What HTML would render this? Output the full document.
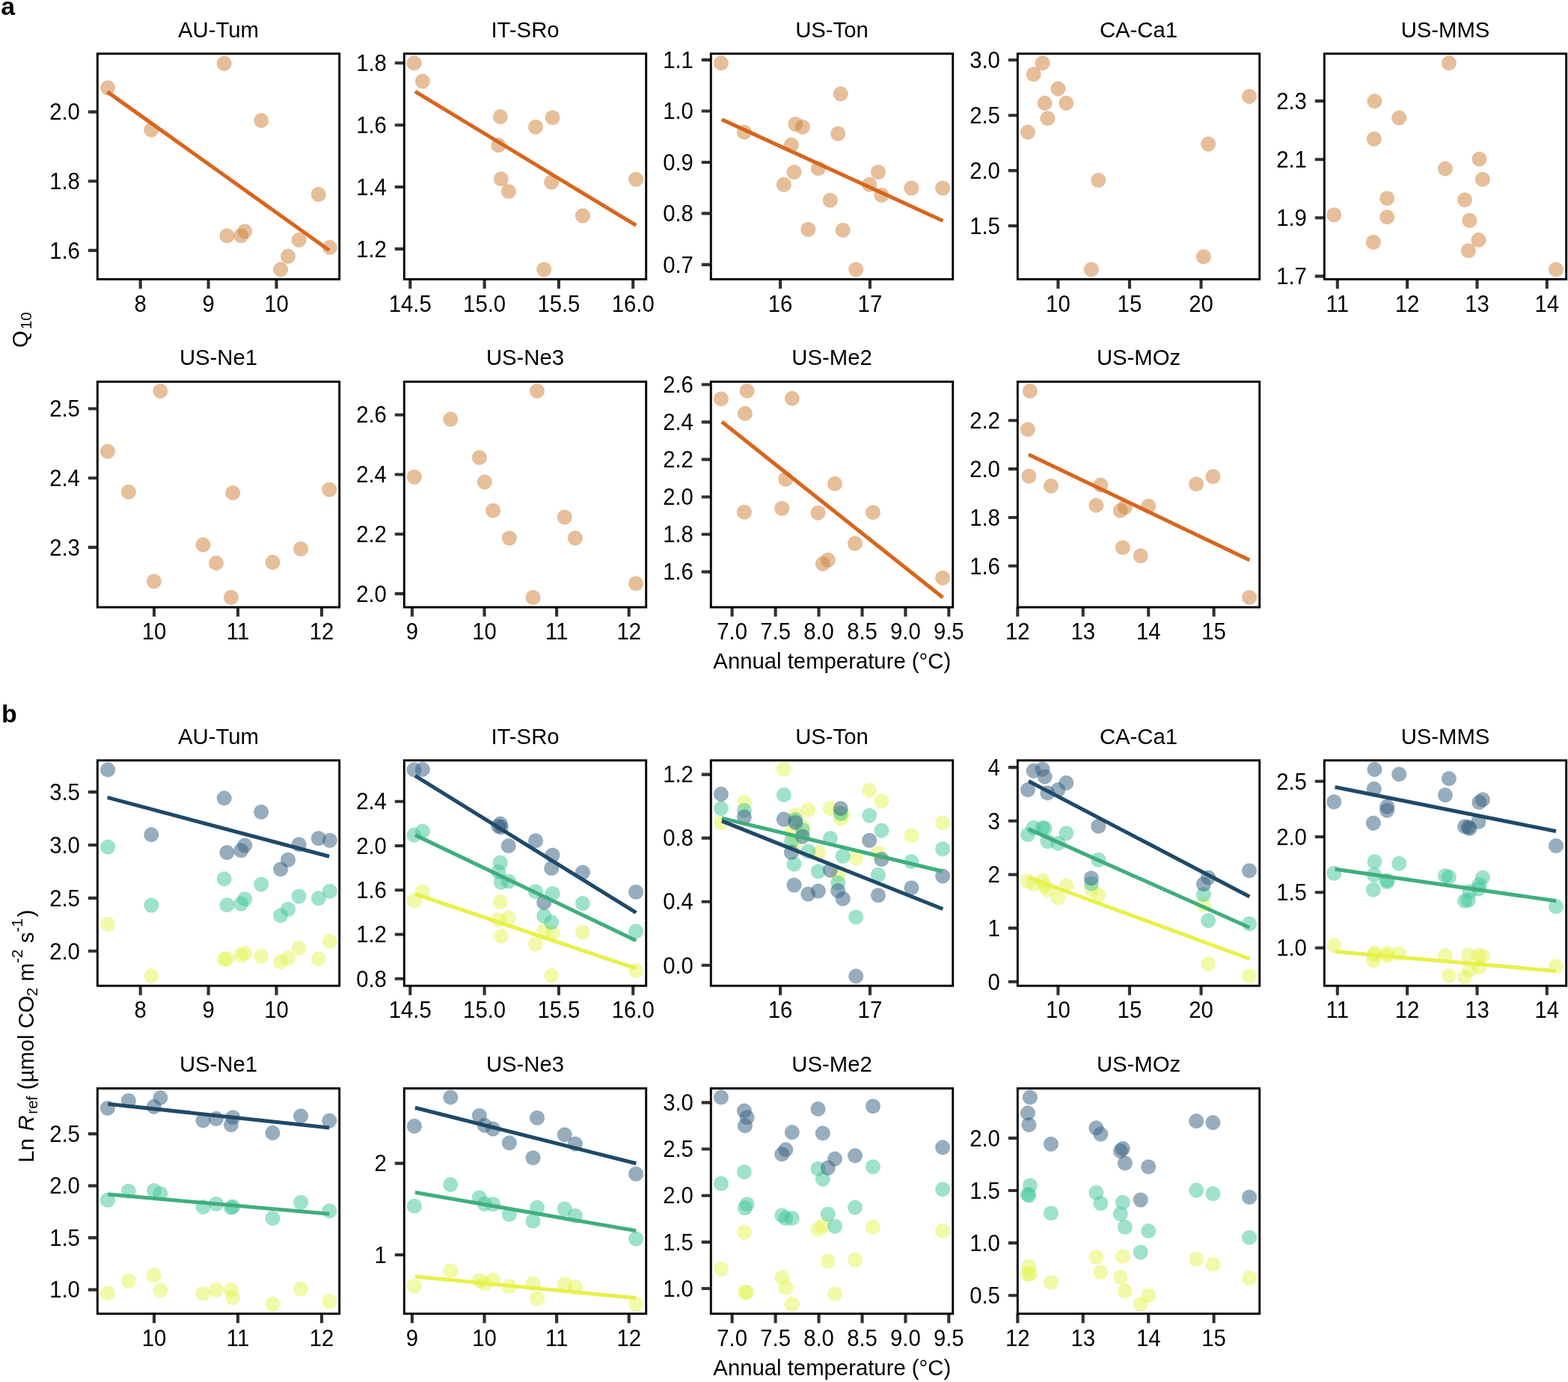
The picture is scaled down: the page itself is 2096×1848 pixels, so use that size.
<!DOCTYPE html>
<html lang="en"><head><meta charset="utf-8"><title>Q10 and Rref versus annual temperature</title>
<style>html,body{margin:0;padding:0;background:#fff}body{width:2096px;height:1848px;overflow:hidden}svg{display:block}text{font-family:"Liberation Sans",sans-serif;font-size:29.3px;fill:#000}.fr{fill:none;stroke:#000;stroke-width:2.9}.tk{stroke:#303030;stroke-width:4.1;fill:none}.t{text-anchor:middle}.y{text-anchor:end}.lb{font-weight:bold;font-size:33.8px}.ln{fill:none;stroke-width:5.05;stroke-linecap:butt}.s{font-size:20.5px}</style></head><body>
<svg width="2096" height="1848" viewBox="0 0 2096 1848" role="img" aria-label="Scatter plots of Q10 and Ln Rref against annual temperature for nine sites">
<rect width="2096" height="1848" fill="#fff"/>
<g id="a1">
<g fill="#cf843e" fill-opacity="0.52" stroke="#cf843e" stroke-opacity="0.312" stroke-width="0.6"><circle cx="144.1" cy="117.4" r="9.8"/><circle cx="299.7" cy="84.9" r="9.8"/><circle cx="202.3" cy="173.6" r="9.8"/><circle cx="349.2" cy="161.1" r="9.8"/><circle cx="425.8" cy="260" r="9.8"/><circle cx="303.4" cy="315.2" r="9.8"/><circle cx="322.2" cy="315.2" r="9.8"/><circle cx="327.2" cy="309.2" r="9.8"/><circle cx="399.6" cy="320.9" r="9.8"/><circle cx="440.8" cy="330.9" r="9.8"/><circle cx="385.1" cy="342.7" r="9.8"/><circle cx="375.1" cy="360.4" r="9.8"/></g>
<path class="ln" stroke="#d8651d" d="M143.6 122.9L440.1 334.7"/>
<path class="tk" d="M187.7 373.4v12.5M278.6 373.4v12.5M369.5 373.4v12.5M130.3 149.6h-12.5M130.3 242.2h-12.5M130.3 334.9h-12.5"/>
<rect class="fr" x="130.3" y="71.8" width="323.4" height="301.6"/>
<text class="t" transform="translate(292 49.7) scale(1 1.02)">AU-Tum</text>
<text class="t" transform="translate(187.7 416.6) scale(1 1.04)">8</text>
<text class="t" transform="translate(278.6 416.6) scale(1 1.04)">9</text>
<text class="t" transform="translate(369.5 416.6) scale(1 1.04)">10</text>
<text class="y" transform="translate(106.9 160.3) scale(1 1.04)">2.0</text>
<text class="y" transform="translate(106.9 252.9) scale(1 1.04)">1.8</text>
<text class="y" transform="translate(106.9 345.6) scale(1 1.04)">1.6</text>
</g>
<g id="a2">
<g fill="#cf843e" fill-opacity="0.52" stroke="#cf843e" stroke-opacity="0.312" stroke-width="0.6"><circle cx="553.6" cy="84.4" r="9.8"/><circle cx="564.9" cy="108.6" r="9.8"/><circle cx="668.8" cy="156.1" r="9.8"/><circle cx="738.5" cy="157.3" r="9.8"/><circle cx="716" cy="169.8" r="9.8"/><circle cx="666.3" cy="194.3" r="9.8"/><circle cx="669.8" cy="239.3" r="9.8"/><circle cx="679.8" cy="256" r="9.8"/><circle cx="737.2" cy="243.5" r="9.8"/><circle cx="850.1" cy="239.8" r="9.8"/><circle cx="778.9" cy="288.5" r="9.8"/><circle cx="727.2" cy="360.4" r="9.8"/></g>
<path class="ln" stroke="#d8651d" d="M554.9 122.4L850.3 301.4"/>
<path class="tk" d="M548.3 373.4v12.5M647.6 373.4v12.5M746.9 373.4v12.5M846.2 373.4v12.5M540.3 84.3h-12.5M540.3 167.2h-12.5M540.3 250h-12.5M540.3 332.9h-12.5"/>
<rect class="fr" x="540.3" y="71.8" width="323.4" height="301.6"/>
<text class="t" transform="translate(702 49.7) scale(1 1.02)">IT-SRo</text>
<text class="t" transform="translate(548.3 416.6) scale(1 1.04)">14.5</text>
<text class="t" transform="translate(647.6 416.6) scale(1 1.04)">15.0</text>
<text class="t" transform="translate(746.9 416.6) scale(1 1.04)">15.5</text>
<text class="t" transform="translate(846.2 416.6) scale(1 1.04)">16.0</text>
<text class="y" transform="translate(516.9 95) scale(1 1.04)">1.8</text>
<text class="y" transform="translate(516.9 177.9) scale(1 1.04)">1.6</text>
<text class="y" transform="translate(516.9 260.7) scale(1 1.04)">1.4</text>
<text class="y" transform="translate(516.9 343.6) scale(1 1.04)">1.2</text>
</g>
<g id="a3">
<g fill="#cf843e" fill-opacity="0.52" stroke="#cf843e" stroke-opacity="0.312" stroke-width="0.6"><circle cx="963.9" cy="84.4" r="9.8"/><circle cx="1123.7" cy="125.6" r="9.8"/><circle cx="994.9" cy="176.8" r="9.8"/><circle cx="1063.3" cy="166.1" r="9.8"/><circle cx="1072.8" cy="169.8" r="9.8"/><circle cx="1120.2" cy="178.8" r="9.8"/><circle cx="1057.8" cy="193.8" r="9.8"/><circle cx="1093.8" cy="225.3" r="9.8"/><circle cx="1061.5" cy="230.3" r="9.8"/><circle cx="1047.8" cy="246.8" r="9.8"/><circle cx="1173.9" cy="230.3" r="9.8"/><circle cx="1162.2" cy="246.8" r="9.8"/><circle cx="1178.4" cy="261" r="9.8"/><circle cx="1218.4" cy="251.5" r="9.8"/><circle cx="1260.1" cy="251.5" r="9.8"/><circle cx="1109.8" cy="267.7" r="9.8"/><circle cx="1080.3" cy="306.7" r="9.8"/><circle cx="1126.7" cy="307.7" r="9.8"/><circle cx="1144.2" cy="360.4" r="9.8"/></g>
<path class="ln" stroke="#d8651d" d="M964.9 159.8L1260.3 295.2"/>
<path class="tk" d="M1043.1 373.4v12.5M1162.9 373.4v12.5M950.3 80.1h-12.5M950.3 148.5h-12.5M950.3 217h-12.5M950.3 285.4h-12.5M950.3 353.9h-12.5"/>
<rect class="fr" x="950.3" y="71.8" width="323.4" height="301.6"/>
<text class="t" transform="translate(1112 49.7) scale(1 1.02)">US-Ton</text>
<text class="t" transform="translate(1043.1 416.6) scale(1 1.04)">16</text>
<text class="t" transform="translate(1162.9 416.6) scale(1 1.04)">17</text>
<text class="y" transform="translate(926.9 90.8) scale(1 1.04)">1.1</text>
<text class="y" transform="translate(926.9 159.2) scale(1 1.04)">1.0</text>
<text class="y" transform="translate(926.9 227.7) scale(1 1.04)">0.9</text>
<text class="y" transform="translate(926.9 296.1) scale(1 1.04)">0.8</text>
<text class="y" transform="translate(926.9 364.6) scale(1 1.04)">0.7</text>
</g>
<g id="a4">
<g fill="#cf843e" fill-opacity="0.52" stroke="#cf843e" stroke-opacity="0.312" stroke-width="0.6"><circle cx="1393.6" cy="84.4" r="9.8"/><circle cx="1381.6" cy="99.4" r="9.8"/><circle cx="1414.4" cy="118.6" r="9.8"/><circle cx="1396.6" cy="137.9" r="9.8"/><circle cx="1425.3" cy="137.9" r="9.8"/><circle cx="1400.4" cy="158.3" r="9.8"/><circle cx="1373.9" cy="176.6" r="9.8"/><circle cx="1669.9" cy="128.9" r="9.8"/><circle cx="1615.2" cy="192.6" r="9.8"/><circle cx="1468.3" cy="241" r="9.8"/><circle cx="1608.9" cy="343.4" r="9.8"/><circle cx="1458.8" cy="360.4" r="9.8"/></g>
<path class="tk" d="M1414.4 373.4v12.5M1509.9 373.4v12.5M1605.5 373.4v12.5M1360.3 80.3h-12.5M1360.3 154.2h-12.5M1360.3 228.1h-12.5M1360.3 302h-12.5"/>
<rect class="fr" x="1360.3" y="71.8" width="323.4" height="301.6"/>
<text class="t" transform="translate(1522 49.7) scale(1 1.02)">CA-Ca1</text>
<text class="t" transform="translate(1414.4 416.6) scale(1 1.04)">10</text>
<text class="t" transform="translate(1509.9 416.6) scale(1 1.04)">15</text>
<text class="t" transform="translate(1605.5 416.6) scale(1 1.04)">20</text>
<text class="y" transform="translate(1336.9 91) scale(1 1.04)">3.0</text>
<text class="y" transform="translate(1336.9 164.9) scale(1 1.04)">2.5</text>
<text class="y" transform="translate(1336.9 238.8) scale(1 1.04)">2.0</text>
<text class="y" transform="translate(1336.9 312.7) scale(1 1.04)">1.5</text>
</g>
<g id="a5">
<g fill="#cf843e" fill-opacity="0.52" stroke="#cf843e" stroke-opacity="0.312" stroke-width="0.6"><circle cx="1936.9" cy="84.4" r="9.8"/><circle cx="1837.5" cy="135.4" r="9.8"/><circle cx="1870.2" cy="157.6" r="9.8"/><circle cx="1836.8" cy="185.8" r="9.8"/><circle cx="1977.4" cy="212.8" r="9.8"/><circle cx="1931.9" cy="225.5" r="9.8"/><circle cx="1981.9" cy="239.8" r="9.8"/><circle cx="1854.2" cy="265.2" r="9.8"/><circle cx="1958.1" cy="267.2" r="9.8"/><circle cx="1783.3" cy="287.2" r="9.8"/><circle cx="1854.2" cy="290.2" r="9.8"/><circle cx="1964.4" cy="294.7" r="9.8"/><circle cx="1835.8" cy="323.9" r="9.8"/><circle cx="1976.4" cy="320.9" r="9.8"/><circle cx="1962.9" cy="335.2" r="9.8"/><circle cx="2080" cy="360.4" r="9.8"/></g>
<path class="tk" d="M1787.8 373.4v12.5M1881.1 373.4v12.5M1974.5 373.4v12.5M2067.8 373.4v12.5M1770.3 135.1h-12.5M1770.3 213.2h-12.5M1770.3 291.3h-12.5M1770.3 369.4h-12.5"/>
<rect class="fr" x="1770.3" y="71.8" width="323.4" height="301.6"/>
<text class="t" transform="translate(1932 49.7) scale(1 1.02)">US-MMS</text>
<text class="t" transform="translate(1787.8 416.6) scale(1 1.04)">11</text>
<text class="t" transform="translate(1881.1 416.6) scale(1 1.04)">12</text>
<text class="t" transform="translate(1974.5 416.6) scale(1 1.04)">13</text>
<text class="t" transform="translate(2067.8 416.6) scale(1 1.04)">14</text>
<text class="y" transform="translate(1746.9 145.8) scale(1 1.04)">2.3</text>
<text class="y" transform="translate(1746.9 223.9) scale(1 1.04)">2.1</text>
<text class="y" transform="translate(1746.9 302) scale(1 1.04)">1.9</text>
<text class="y" transform="translate(1746.9 380.1) scale(1 1.04)">1.7</text>
</g>
<g id="a6">
<g fill="#cf843e" fill-opacity="0.52" stroke="#cf843e" stroke-opacity="0.312" stroke-width="0.6"><circle cx="214.3" cy="522.9" r="9.8"/><circle cx="143.9" cy="603.6" r="9.8"/><circle cx="171.8" cy="657.8" r="9.8"/><circle cx="311.2" cy="659" r="9.8"/><circle cx="440.3" cy="654.8" r="9.8"/><circle cx="271.5" cy="728.5" r="9.8"/><circle cx="402.1" cy="734" r="9.8"/><circle cx="289" cy="752.9" r="9.8"/><circle cx="364.4" cy="751.9" r="9.8"/><circle cx="205.8" cy="777.4" r="9.8"/><circle cx="308.9" cy="798.7" r="9.8"/></g>
<path class="tk" d="M206 812v12.5M318 812v12.5M430 812v12.5M130.3 546.5h-12.5M130.3 639.2h-12.5M130.3 731.9h-12.5"/>
<rect class="fr" x="130.3" y="510.4" width="323.4" height="301.6"/>
<text class="t" transform="translate(292 488.3) scale(1 1.02)">US-Ne1</text>
<text class="t" transform="translate(206 855.2) scale(1 1.04)">10</text>
<text class="t" transform="translate(318 855.2) scale(1 1.04)">11</text>
<text class="t" transform="translate(430 855.2) scale(1 1.04)">12</text>
<text class="y" transform="translate(106.9 557.2) scale(1 1.04)">2.5</text>
<text class="y" transform="translate(106.9 649.9) scale(1 1.04)">2.4</text>
<text class="y" transform="translate(106.9 742.6) scale(1 1.04)">2.3</text>
</g>
<g id="a7">
<g fill="#cf843e" fill-opacity="0.52" stroke="#cf843e" stroke-opacity="0.312" stroke-width="0.6"><circle cx="718" cy="522.9" r="9.8"/><circle cx="602.3" cy="560.6" r="9.8"/><circle cx="640.8" cy="611.8" r="9.8"/><circle cx="553.9" cy="637.8" r="9.8"/><circle cx="647.8" cy="644.6" r="9.8"/><circle cx="659" cy="682.8" r="9.8"/><circle cx="754.7" cy="691.5" r="9.8"/><circle cx="680.8" cy="719.5" r="9.8"/><circle cx="768.9" cy="719.5" r="9.8"/><circle cx="850.1" cy="780.2" r="9.8"/><circle cx="712.5" cy="798.7" r="9.8"/></g>
<path class="tk" d="M550.9 812v12.5M647.5 812v12.5M744.1 812v12.5M840.7 812v12.5M540.3 554.7h-12.5M540.3 634.5h-12.5M540.3 714.2h-12.5M540.3 793.9h-12.5"/>
<rect class="fr" x="540.3" y="510.4" width="323.4" height="301.6"/>
<text class="t" transform="translate(702 488.3) scale(1 1.02)">US-Ne3</text>
<text class="t" transform="translate(550.9 855.2) scale(1 1.04)">9</text>
<text class="t" transform="translate(647.5 855.2) scale(1 1.04)">10</text>
<text class="t" transform="translate(744.1 855.2) scale(1 1.04)">11</text>
<text class="t" transform="translate(840.7 855.2) scale(1 1.04)">12</text>
<text class="y" transform="translate(516.9 565.4) scale(1 1.04)">2.6</text>
<text class="y" transform="translate(516.9 645.2) scale(1 1.04)">2.4</text>
<text class="y" transform="translate(516.9 724.9) scale(1 1.04)">2.2</text>
<text class="y" transform="translate(516.9 804.6) scale(1 1.04)">2.0</text>
</g>
<g id="a8">
<g fill="#cf843e" fill-opacity="0.52" stroke="#cf843e" stroke-opacity="0.312" stroke-width="0.6"><circle cx="963.9" cy="533.4" r="9.8"/><circle cx="998.6" cy="522.7" r="9.8"/><circle cx="1058.8" cy="532.7" r="9.8"/><circle cx="995.9" cy="552.9" r="9.8"/><circle cx="1050.3" cy="640.8" r="9.8"/><circle cx="1116" cy="646.8" r="9.8"/><circle cx="994.9" cy="684.8" r="9.8"/><circle cx="1045.3" cy="679.8" r="9.8"/><circle cx="1093.5" cy="685.8" r="9.8"/><circle cx="1166.9" cy="685.3" r="9.8"/><circle cx="1143" cy="726.7" r="9.8"/><circle cx="1106.8" cy="748.7" r="9.8"/><circle cx="1099.8" cy="753.9" r="9.8"/><circle cx="1260.1" cy="772.7" r="9.8"/></g>
<path class="ln" stroke="#d8651d" d="M964.9 564.1L1260.3 798.9"/>
<path class="tk" d="M978.6 812v12.5M1036.6 812v12.5M1094.5 812v12.5M1152.5 812v12.5M1210.4 812v12.5M1268.3 812v12.5M950.3 514.3h-12.5M950.3 564.4h-12.5M950.3 614.4h-12.5M950.3 664.5h-12.5M950.3 714.5h-12.5M950.3 764.6h-12.5"/>
<rect class="fr" x="950.3" y="510.4" width="323.4" height="301.6"/>
<text class="t" transform="translate(1112 488.3) scale(1 1.02)">US-Me2</text>
<text class="t" transform="translate(978.6 855.2) scale(1 1.04)">7.0</text>
<text class="t" transform="translate(1036.6 855.2) scale(1 1.04)">7.5</text>
<text class="t" transform="translate(1094.5 855.2) scale(1 1.04)">8.0</text>
<text class="t" transform="translate(1152.5 855.2) scale(1 1.04)">8.5</text>
<text class="t" transform="translate(1210.4 855.2) scale(1 1.04)">9.0</text>
<text class="t" transform="translate(1268.3 855.2) scale(1 1.04)">9.5</text>
<text class="y" transform="translate(926.9 525) scale(1 1.04)">2.6</text>
<text class="y" transform="translate(926.9 575.1) scale(1 1.04)">2.4</text>
<text class="y" transform="translate(926.9 625.1) scale(1 1.04)">2.2</text>
<text class="y" transform="translate(926.9 675.2) scale(1 1.04)">2.0</text>
<text class="y" transform="translate(926.9 725.2) scale(1 1.04)">1.8</text>
<text class="y" transform="translate(926.9 775.3) scale(1 1.04)">1.6</text>
</g>
<g id="a9">
<g fill="#cf843e" fill-opacity="0.52" stroke="#cf843e" stroke-opacity="0.312" stroke-width="0.6"><circle cx="1376.9" cy="522.9" r="9.8"/><circle cx="1373.9" cy="574.4" r="9.8"/><circle cx="1375.4" cy="636.8" r="9.8"/><circle cx="1404.9" cy="649.8" r="9.8"/><circle cx="1471.3" cy="648.6" r="9.8"/><circle cx="1465.3" cy="675.8" r="9.8"/><circle cx="1497.8" cy="682.8" r="9.8"/><circle cx="1503.8" cy="678.3" r="9.8"/><circle cx="1535.2" cy="676.8" r="9.8"/><circle cx="1599.2" cy="647.3" r="9.8"/><circle cx="1621.4" cy="637.3" r="9.8"/><circle cx="1500.8" cy="732.2" r="9.8"/><circle cx="1524.7" cy="743.2" r="9.8"/><circle cx="1670.1" cy="798.7" r="9.8"/></g>
<path class="ln" stroke="#d8651d" d="M1374.9 607.8L1670.3 749"/>
<path class="tk" d="M1360.3 812v12.5M1447.7 812v12.5M1535.2 812v12.5M1622.6 812v12.5M1360.3 562.2h-12.5M1360.3 627.1h-12.5M1360.3 692h-12.5M1360.3 756.8h-12.5"/>
<rect class="fr" x="1360.3" y="510.4" width="323.4" height="301.6"/>
<text class="t" transform="translate(1522 488.3) scale(1 1.02)">US-MOz</text>
<text class="t" transform="translate(1360.3 855.2) scale(1 1.04)">12</text>
<text class="t" transform="translate(1447.7 855.2) scale(1 1.04)">13</text>
<text class="t" transform="translate(1535.2 855.2) scale(1 1.04)">14</text>
<text class="t" transform="translate(1622.6 855.2) scale(1 1.04)">15</text>
<text class="y" transform="translate(1336.9 572.9) scale(1 1.04)">2.2</text>
<text class="y" transform="translate(1336.9 637.8) scale(1 1.04)">2.0</text>
<text class="y" transform="translate(1336.9 702.7) scale(1 1.04)">1.8</text>
<text class="y" transform="translate(1336.9 767.5) scale(1 1.04)">1.6</text>
</g>
<g id="b1">
<g fill="#e4f24b" fill-opacity="0.48" stroke="#e4f24b" stroke-opacity="0.288" stroke-width="0.6"><circle cx="144.1" cy="1235.9" r="9.8"/><circle cx="202.3" cy="1305.1" r="9.8"/><circle cx="299.7" cy="1282.9" r="9.8"/><circle cx="303.4" cy="1282.1" r="9.8"/><circle cx="322.2" cy="1277.6" r="9.8"/><circle cx="327.2" cy="1274.6" r="9.8"/><circle cx="349.2" cy="1278.9" r="9.8"/><circle cx="375.1" cy="1285.9" r="9.8"/><circle cx="385.1" cy="1281.4" r="9.8"/><circle cx="399.6" cy="1267.9" r="9.8"/><circle cx="425.8" cy="1282.1" r="9.8"/><circle cx="440.8" cy="1258.9" r="9.8"/></g>
<g fill="#3fc699" fill-opacity="0.5" stroke="#3fc699" stroke-opacity="0.3" stroke-width="0.6"><circle cx="144.1" cy="1132.5" r="9.8"/><circle cx="202.3" cy="1210.5" r="9.8"/><circle cx="299.7" cy="1175.2" r="9.8"/><circle cx="303.4" cy="1210.2" r="9.8"/><circle cx="322.2" cy="1208.5" r="9.8"/><circle cx="327.2" cy="1202.2" r="9.8"/><circle cx="349.2" cy="1182.5" r="9.8"/><circle cx="375.1" cy="1224.2" r="9.8"/><circle cx="385.1" cy="1215.7" r="9.8"/><circle cx="399.6" cy="1198.5" r="9.8"/><circle cx="425.8" cy="1201.2" r="9.8"/><circle cx="440.8" cy="1191.7" r="9.8"/></g>
<g fill="#3b6583" fill-opacity="0.53" stroke="#3b6583" stroke-opacity="0.318" stroke-width="0.6"><circle cx="144.1" cy="1029.4" r="9.8"/><circle cx="202.3" cy="1116.1" r="9.8"/><circle cx="299.7" cy="1067.4" r="9.8"/><circle cx="303.4" cy="1140" r="9.8"/><circle cx="322.2" cy="1137.3" r="9.8"/><circle cx="327.2" cy="1130.5" r="9.8"/><circle cx="349.2" cy="1085.8" r="9.8"/><circle cx="375.1" cy="1162.3" r="9.8"/><circle cx="385.1" cy="1149.8" r="9.8"/><circle cx="399.6" cy="1129.3" r="9.8"/><circle cx="425.8" cy="1121" r="9.8"/><circle cx="440.8" cy="1123.8" r="9.8"/></g>
<path class="ln" stroke="#1f4969" d="M143.6 1066.4L440.1 1145.3"/>
<path class="tk" d="M187.7 1318.2v12.5M278.6 1318.2v12.5M369.5 1318.2v12.5M130.3 1059.1h-12.5M130.3 1130h-12.5M130.3 1200.9h-12.5M130.3 1271.8h-12.5"/>
<rect class="fr" x="130.3" y="1016.8" width="323.4" height="301.4"/>
<text class="t" transform="translate(292 994.7) scale(1 1.02)">AU-Tum</text>
<text class="t" transform="translate(187.7 1361.4) scale(1 1.04)">8</text>
<text class="t" transform="translate(278.6 1361.4) scale(1 1.04)">9</text>
<text class="t" transform="translate(369.5 1361.4) scale(1 1.04)">10</text>
<text class="y" transform="translate(106.9 1069.8) scale(1 1.04)">3.5</text>
<text class="y" transform="translate(106.9 1140.7) scale(1 1.04)">3.0</text>
<text class="y" transform="translate(106.9 1211.6) scale(1 1.04)">2.5</text>
<text class="y" transform="translate(106.9 1282.5) scale(1 1.04)">2.0</text>
</g>
<g id="b2">
<g fill="#e4f24b" fill-opacity="0.48" stroke="#e4f24b" stroke-opacity="0.288" stroke-width="0.6"><circle cx="553.6" cy="1204.2" r="9.8"/><circle cx="564.9" cy="1192.2" r="9.8"/><circle cx="668.8" cy="1206" r="9.8"/><circle cx="666.3" cy="1229.7" r="9.8"/><circle cx="669.8" cy="1251.7" r="9.8"/><circle cx="679.8" cy="1227.2" r="9.8"/><circle cx="716" cy="1262.2" r="9.8"/><circle cx="727.2" cy="1244.7" r="9.8"/><circle cx="738.5" cy="1247.2" r="9.8"/><circle cx="737.2" cy="1304.6" r="9.8"/><circle cx="778.9" cy="1246.7" r="9.8"/><circle cx="850.1" cy="1297.9" r="9.8"/></g>
<g fill="#3fc699" fill-opacity="0.5" stroke="#3fc699" stroke-opacity="0.3" stroke-width="0.6"><circle cx="553.6" cy="1116.6" r="9.8"/><circle cx="564.9" cy="1111.6" r="9.8"/><circle cx="668.8" cy="1153.5" r="9.8"/><circle cx="666.3" cy="1166" r="9.8"/><circle cx="669.8" cy="1179.7" r="9.8"/><circle cx="679.8" cy="1178.5" r="9.8"/><circle cx="716" cy="1192.2" r="9.8"/><circle cx="727.2" cy="1224.7" r="9.8"/><circle cx="738.5" cy="1194.7" r="9.8"/><circle cx="737.2" cy="1233.4" r="9.8"/><circle cx="778.9" cy="1208" r="9.8"/><circle cx="850.1" cy="1245.2" r="9.8"/></g>
<g fill="#3b6583" fill-opacity="0.53" stroke="#3b6583" stroke-opacity="0.318" stroke-width="0.6"><circle cx="553.6" cy="1029.4" r="9.8"/><circle cx="564.9" cy="1028.9" r="9.8"/><circle cx="668.8" cy="1101.6" r="9.8"/><circle cx="666.3" cy="1104.8" r="9.8"/><circle cx="669.8" cy="1106.1" r="9.8"/><circle cx="679.8" cy="1131" r="9.8"/><circle cx="716" cy="1124.3" r="9.8"/><circle cx="727.2" cy="1206.7" r="9.8"/><circle cx="738.5" cy="1143.5" r="9.8"/><circle cx="737.2" cy="1161" r="9.8"/><circle cx="778.9" cy="1166.5" r="9.8"/><circle cx="850.1" cy="1192.7" r="9.8"/></g>
<path class="ln" stroke="#e8f04a" d="M554.9 1195.5L850.3 1295.1"/>
<path class="ln" stroke="#40ae7e" d="M554.9 1116.6L850.3 1257.7"/>
<path class="ln" stroke="#1f4969" d="M554.9 1037.4L850.3 1220.4"/>
<path class="tk" d="M548.3 1318.2v12.5M647.6 1318.2v12.5M746.9 1318.2v12.5M846.2 1318.2v12.5M540.3 1071.7h-12.5M540.3 1131h-12.5M540.3 1190.3h-12.5M540.3 1249.5h-12.5M540.3 1308.8h-12.5"/>
<rect class="fr" x="540.3" y="1016.8" width="323.4" height="301.4"/>
<text class="t" transform="translate(702 994.7) scale(1 1.02)">IT-SRo</text>
<text class="t" transform="translate(548.3 1361.4) scale(1 1.04)">14.5</text>
<text class="t" transform="translate(647.6 1361.4) scale(1 1.04)">15.0</text>
<text class="t" transform="translate(746.9 1361.4) scale(1 1.04)">15.5</text>
<text class="t" transform="translate(846.2 1361.4) scale(1 1.04)">16.0</text>
<text class="y" transform="translate(516.9 1082.4) scale(1 1.04)">2.4</text>
<text class="y" transform="translate(516.9 1141.7) scale(1 1.04)">2.0</text>
<text class="y" transform="translate(516.9 1201) scale(1 1.04)">1.6</text>
<text class="y" transform="translate(516.9 1260.2) scale(1 1.04)">1.2</text>
<text class="y" transform="translate(516.9 1319.5) scale(1 1.04)">0.8</text>
</g>
<g id="b3">
<g fill="#e4f24b" fill-opacity="0.48" stroke="#e4f24b" stroke-opacity="0.288" stroke-width="0.6"><circle cx="963.9" cy="1100.3" r="9.8"/><circle cx="994.9" cy="1072.8" r="9.8"/><circle cx="1047.8" cy="1028.6" r="9.8"/><circle cx="1057.8" cy="1112.3" r="9.8"/><circle cx="1061.5" cy="1127.3" r="9.8"/><circle cx="1063.3" cy="1089.8" r="9.8"/><circle cx="1072.8" cy="1104.8" r="9.8"/><circle cx="1080.3" cy="1082.8" r="9.8"/><circle cx="1093.8" cy="1140.3" r="9.8"/><circle cx="1109.8" cy="1081.1" r="9.8"/><circle cx="1120.2" cy="1169.8" r="9.8"/><circle cx="1123.7" cy="1094.8" r="9.8"/><circle cx="1126.7" cy="1088.6" r="9.8"/><circle cx="1144.2" cy="1147.3" r="9.8"/><circle cx="1162.2" cy="1056.9" r="9.8"/><circle cx="1173.9" cy="1141" r="9.8"/><circle cx="1178.4" cy="1071.1" r="9.8"/><circle cx="1218.4" cy="1117.3" r="9.8"/><circle cx="1260.1" cy="1100.3" r="9.8"/></g>
<g fill="#3fc699" fill-opacity="0.5" stroke="#3fc699" stroke-opacity="0.3" stroke-width="0.6"><circle cx="963.9" cy="1081.1" r="9.8"/><circle cx="994.9" cy="1083.6" r="9.8"/><circle cx="1047.8" cy="1062.9" r="9.8"/><circle cx="1057.8" cy="1124.8" r="9.8"/><circle cx="1061.5" cy="1155.5" r="9.8"/><circle cx="1063.3" cy="1096.1" r="9.8"/><circle cx="1072.8" cy="1109.8" r="9.8"/><circle cx="1080.3" cy="1138.5" r="9.8"/><circle cx="1093.8" cy="1165.3" r="9.8"/><circle cx="1109.8" cy="1121" r="9.8"/><circle cx="1120.2" cy="1180.5" r="9.8"/><circle cx="1123.7" cy="1087.8" r="9.8"/><circle cx="1126.7" cy="1144.8" r="9.8"/><circle cx="1144.2" cy="1226.4" r="9.8"/><circle cx="1162.2" cy="1090.6" r="9.8"/><circle cx="1173.9" cy="1169.8" r="9.8"/><circle cx="1178.4" cy="1110.6" r="9.8"/><circle cx="1218.4" cy="1152.3" r="9.8"/><circle cx="1260.1" cy="1135.3" r="9.8"/></g>
<g fill="#3b6583" fill-opacity="0.53" stroke="#3b6583" stroke-opacity="0.318" stroke-width="0.6"><circle cx="963.9" cy="1061.9" r="9.8"/><circle cx="994.9" cy="1092.3" r="9.8"/><circle cx="1047.8" cy="1095.6" r="9.8"/><circle cx="1057.8" cy="1139.8" r="9.8"/><circle cx="1061.5" cy="1183.5" r="9.8"/><circle cx="1063.3" cy="1099.8" r="9.8"/><circle cx="1072.8" cy="1118.6" r="9.8"/><circle cx="1080.3" cy="1195.5" r="9.8"/><circle cx="1093.8" cy="1191.5" r="9.8"/><circle cx="1109.8" cy="1163.5" r="9.8"/><circle cx="1120.2" cy="1191" r="9.8"/><circle cx="1123.7" cy="1081.1" r="9.8"/><circle cx="1126.7" cy="1201.7" r="9.8"/><circle cx="1144.2" cy="1305.4" r="9.8"/><circle cx="1162.2" cy="1123.8" r="9.8"/><circle cx="1173.9" cy="1197.2" r="9.8"/><circle cx="1178.4" cy="1149" r="9.8"/><circle cx="1218.4" cy="1187.2" r="9.8"/><circle cx="1260.1" cy="1171.5" r="9.8"/></g>
<path class="ln" stroke="#40ae7e" d="M964.9 1094.1L1260.3 1165.3"/>
<path class="ln" stroke="#1f4969" d="M964.9 1097.8L1260.3 1215.5"/>
<path class="tk" d="M1043.1 1318.2v12.5M1162.9 1318.2v12.5M950.3 1035.6h-12.5M950.3 1120.6h-12.5M950.3 1205.7h-12.5M950.3 1290.8h-12.5"/>
<rect class="fr" x="950.3" y="1016.8" width="323.4" height="301.4"/>
<text class="t" transform="translate(1112 994.7) scale(1 1.02)">US-Ton</text>
<text class="t" transform="translate(1043.1 1361.4) scale(1 1.04)">16</text>
<text class="t" transform="translate(1162.9 1361.4) scale(1 1.04)">17</text>
<text class="y" transform="translate(926.9 1046.3) scale(1 1.04)">1.2</text>
<text class="y" transform="translate(926.9 1131.3) scale(1 1.04)">0.8</text>
<text class="y" transform="translate(926.9 1216.4) scale(1 1.04)">0.4</text>
<text class="y" transform="translate(926.9 1301.5) scale(1 1.04)">0.0</text>
</g>
<g id="b4">
<g fill="#e4f24b" fill-opacity="0.48" stroke="#e4f24b" stroke-opacity="0.288" stroke-width="0.6"><circle cx="1373.9" cy="1178" r="9.8"/><circle cx="1381.6" cy="1182.2" r="9.8"/><circle cx="1393.6" cy="1177.2" r="9.8"/><circle cx="1396.6" cy="1184.7" r="9.8"/><circle cx="1400.4" cy="1189.7" r="9.8"/><circle cx="1414.4" cy="1200.2" r="9.8"/><circle cx="1425.3" cy="1184.2" r="9.8"/><circle cx="1458.8" cy="1189.7" r="9.8"/><circle cx="1468.3" cy="1196.7" r="9.8"/><circle cx="1608.9" cy="1209.7" r="9.8"/><circle cx="1615.2" cy="1288.9" r="9.8"/><circle cx="1669.9" cy="1305.1" r="9.8"/></g>
<g fill="#3fc699" fill-opacity="0.5" stroke="#3fc699" stroke-opacity="0.3" stroke-width="0.6"><circle cx="1373.9" cy="1116.1" r="9.8"/><circle cx="1381.6" cy="1106.8" r="9.8"/><circle cx="1393.6" cy="1106.8" r="9.8"/><circle cx="1396.6" cy="1107.8" r="9.8"/><circle cx="1400.4" cy="1125.3" r="9.8"/><circle cx="1414.4" cy="1127.8" r="9.8"/><circle cx="1425.3" cy="1114.3" r="9.8"/><circle cx="1458.8" cy="1181.5" r="9.8"/><circle cx="1468.3" cy="1149.8" r="9.8"/><circle cx="1608.9" cy="1196" r="9.8"/><circle cx="1615.2" cy="1230.9" r="9.8"/><circle cx="1669.9" cy="1235.2" r="9.8"/></g>
<g fill="#3b6583" fill-opacity="0.53" stroke="#3b6583" stroke-opacity="0.318" stroke-width="0.6"><circle cx="1373.9" cy="1056.1" r="9.8"/><circle cx="1381.6" cy="1030.6" r="9.8"/><circle cx="1393.6" cy="1028.6" r="9.8"/><circle cx="1396.6" cy="1038.6" r="9.8"/><circle cx="1400.4" cy="1060.4" r="9.8"/><circle cx="1414.4" cy="1056.1" r="9.8"/><circle cx="1425.3" cy="1046.9" r="9.8"/><circle cx="1458.8" cy="1174.2" r="9.8"/><circle cx="1468.3" cy="1104.8" r="9.8"/><circle cx="1608.9" cy="1182.2" r="9.8"/><circle cx="1615.2" cy="1173.5" r="9.8"/><circle cx="1669.9" cy="1164.3" r="9.8"/></g>
<path class="ln" stroke="#e8f04a" d="M1374.9 1173.5L1670.3 1282.1"/>
<path class="ln" stroke="#40ae7e" d="M1374.9 1108.6L1670.3 1240.2"/>
<path class="ln" stroke="#1f4969" d="M1374.9 1044.4L1670.3 1199"/>
<path class="tk" d="M1414.4 1318.2v12.5M1509.9 1318.2v12.5M1605.5 1318.2v12.5M1360.3 1026.1h-12.5M1360.3 1097.8h-12.5M1360.3 1169.5h-12.5M1360.3 1241.1h-12.5M1360.3 1312.8h-12.5"/>
<rect class="fr" x="1360.3" y="1016.8" width="323.4" height="301.4"/>
<text class="t" transform="translate(1522 994.7) scale(1 1.02)">CA-Ca1</text>
<text class="t" transform="translate(1414.4 1361.4) scale(1 1.04)">10</text>
<text class="t" transform="translate(1509.9 1361.4) scale(1 1.04)">15</text>
<text class="t" transform="translate(1605.5 1361.4) scale(1 1.04)">20</text>
<text class="y" transform="translate(1336.9 1036.8) scale(1 1.04)">4</text>
<text class="y" transform="translate(1336.9 1108.5) scale(1 1.04)">3</text>
<text class="y" transform="translate(1336.9 1180.2) scale(1 1.04)">2</text>
<text class="y" transform="translate(1336.9 1251.8) scale(1 1.04)">1</text>
<text class="y" transform="translate(1336.9 1323.5) scale(1 1.04)">0</text>
</g>
<g id="b5">
<g fill="#e4f24b" fill-opacity="0.48" stroke="#e4f24b" stroke-opacity="0.288" stroke-width="0.6"><circle cx="1783.3" cy="1264.2" r="9.8"/><circle cx="1835.8" cy="1284.6" r="9.8"/><circle cx="1836.8" cy="1277.1" r="9.8"/><circle cx="1837.5" cy="1274.1" r="9.8"/><circle cx="1854.2" cy="1277.6" r="9.8"/><circle cx="1854.2" cy="1274.6" r="9.8"/><circle cx="1870.2" cy="1275.1" r="9.8"/><circle cx="1931.9" cy="1277.6" r="9.8"/><circle cx="1936.9" cy="1304.6" r="9.8"/><circle cx="1958.1" cy="1306.6" r="9.8"/><circle cx="1962.9" cy="1277.1" r="9.8"/><circle cx="1964.4" cy="1297.1" r="9.8"/><circle cx="1976.4" cy="1277.6" r="9.8"/><circle cx="1977.4" cy="1293.4" r="9.8"/><circle cx="1981.9" cy="1278.4" r="9.8"/><circle cx="2080" cy="1292.1" r="9.8"/></g>
<g fill="#3fc699" fill-opacity="0.5" stroke="#3fc699" stroke-opacity="0.3" stroke-width="0.6"><circle cx="1783.3" cy="1167.8" r="9.8"/><circle cx="1835.8" cy="1189.7" r="9.8"/><circle cx="1836.8" cy="1169.8" r="9.8"/><circle cx="1837.5" cy="1152.3" r="9.8"/><circle cx="1854.2" cy="1179.2" r="9.8"/><circle cx="1854.2" cy="1177.2" r="9.8"/><circle cx="1870.2" cy="1154.8" r="9.8"/><circle cx="1931.9" cy="1171" r="9.8"/><circle cx="1936.9" cy="1172.7" r="9.8"/><circle cx="1958.1" cy="1204.7" r="9.8"/><circle cx="1962.9" cy="1203.5" r="9.8"/><circle cx="1964.4" cy="1192.2" r="9.8"/><circle cx="1976.4" cy="1188.5" r="9.8"/><circle cx="1977.4" cy="1182.7" r="9.8"/><circle cx="1981.9" cy="1173.5" r="9.8"/><circle cx="2080" cy="1212.2" r="9.8"/></g>
<g fill="#3b6583" fill-opacity="0.53" stroke="#3b6583" stroke-opacity="0.318" stroke-width="0.6"><circle cx="1783.3" cy="1072.3" r="9.8"/><circle cx="1835.8" cy="1100.6" r="9.8"/><circle cx="1836.8" cy="1054.9" r="9.8"/><circle cx="1837.5" cy="1028.9" r="9.8"/><circle cx="1854.2" cy="1083.6" r="9.8"/><circle cx="1854.2" cy="1078.6" r="9.8"/><circle cx="1870.2" cy="1035.4" r="9.8"/><circle cx="1931.9" cy="1063.1" r="9.8"/><circle cx="1936.9" cy="1041.1" r="9.8"/><circle cx="1958.1" cy="1105.3" r="9.8"/><circle cx="1962.9" cy="1106.1" r="9.8"/><circle cx="1964.4" cy="1107.8" r="9.8"/><circle cx="1976.4" cy="1098.8" r="9.8"/><circle cx="1977.4" cy="1072.8" r="9.8"/><circle cx="1981.9" cy="1069.4" r="9.8"/><circle cx="2080" cy="1131" r="9.8"/></g>
<path class="ln" stroke="#e8f04a" d="M1784.6 1272.6L2080 1298.4"/>
<path class="ln" stroke="#40ae7e" d="M1784.6 1162.3L2080 1204.7"/>
<path class="ln" stroke="#1f4969" d="M1784.6 1052.4L2080 1111.6"/>
<path class="tk" d="M1787.8 1318.2v12.5M1881.1 1318.2v12.5M1974.5 1318.2v12.5M2067.8 1318.2v12.5M1770.3 1044.8h-12.5M1770.3 1119h-12.5M1770.3 1193.3h-12.5M1770.3 1267.5h-12.5"/>
<rect class="fr" x="1770.3" y="1016.8" width="323.4" height="301.4"/>
<text class="t" transform="translate(1932 994.7) scale(1 1.02)">US-MMS</text>
<text class="t" transform="translate(1787.8 1361.4) scale(1 1.04)">11</text>
<text class="t" transform="translate(1881.1 1361.4) scale(1 1.04)">12</text>
<text class="t" transform="translate(1974.5 1361.4) scale(1 1.04)">13</text>
<text class="t" transform="translate(2067.8 1361.4) scale(1 1.04)">14</text>
<text class="y" transform="translate(1746.9 1055.5) scale(1 1.04)">2.5</text>
<text class="y" transform="translate(1746.9 1129.7) scale(1 1.04)">2.0</text>
<text class="y" transform="translate(1746.9 1204) scale(1 1.04)">1.5</text>
<text class="y" transform="translate(1746.9 1278.2) scale(1 1.04)">1.0</text>
</g>
<g id="b6">
<g fill="#e4f24b" fill-opacity="0.48" stroke="#e4f24b" stroke-opacity="0.288" stroke-width="0.6"><circle cx="143.9" cy="1729.4" r="9.8"/><circle cx="171.8" cy="1712.7" r="9.8"/><circle cx="205.8" cy="1705.2" r="9.8"/><circle cx="214.3" cy="1725.2" r="9.8"/><circle cx="271.5" cy="1729.7" r="9.8"/><circle cx="289" cy="1724.7" r="9.8"/><circle cx="308.9" cy="1724.7" r="9.8"/><circle cx="311.2" cy="1735.2" r="9.8"/><circle cx="364.4" cy="1743.9" r="9.8"/><circle cx="402.1" cy="1723.4" r="9.8"/><circle cx="440.3" cy="1740.2" r="9.8"/></g>
<g fill="#3fc699" fill-opacity="0.5" stroke="#3fc699" stroke-opacity="0.3" stroke-width="0.6"><circle cx="143.9" cy="1604.8" r="9.8"/><circle cx="171.8" cy="1592.8" r="9.8"/><circle cx="205.8" cy="1592.1" r="9.8"/><circle cx="214.3" cy="1596.1" r="9.8"/><circle cx="271.5" cy="1614" r="9.8"/><circle cx="289" cy="1609.8" r="9.8"/><circle cx="308.9" cy="1614.8" r="9.8"/><circle cx="311.2" cy="1613.5" r="9.8"/><circle cx="364.4" cy="1629" r="9.8"/><circle cx="402.1" cy="1607.8" r="9.8"/><circle cx="440.3" cy="1619.3" r="9.8"/></g>
<g fill="#3b6583" fill-opacity="0.53" stroke="#3b6583" stroke-opacity="0.318" stroke-width="0.6"><circle cx="143.9" cy="1481.7" r="9.8"/><circle cx="171.8" cy="1471.7" r="9.8"/><circle cx="205.8" cy="1479.9" r="9.8"/><circle cx="214.3" cy="1467.9" r="9.8"/><circle cx="271.5" cy="1498.4" r="9.8"/><circle cx="289" cy="1495.9" r="9.8"/><circle cx="308.9" cy="1504.1" r="9.8"/><circle cx="311.2" cy="1494.2" r="9.8"/><circle cx="364.4" cy="1514.9" r="9.8"/><circle cx="402.1" cy="1492.4" r="9.8"/><circle cx="440.3" cy="1498.6" r="9.8"/></g>
<path class="ln" stroke="#40ae7e" d="M144.4 1597.1L440.1 1623.3"/>
<path class="ln" stroke="#1f4969" d="M144.4 1476.2L440.1 1507.9"/>
<path class="tk" d="M206 1756.7v12.5M318 1756.7v12.5M430 1756.7v12.5M130.3 1516.1h-12.5M130.3 1585.6h-12.5M130.3 1655.1h-12.5M130.3 1724.6h-12.5"/>
<rect class="fr" x="130.3" y="1455.4" width="323.4" height="301.3"/>
<text class="t" transform="translate(292 1433.3) scale(1 1.02)">US-Ne1</text>
<text class="t" transform="translate(206 1799.9) scale(1 1.04)">10</text>
<text class="t" transform="translate(318 1799.9) scale(1 1.04)">11</text>
<text class="t" transform="translate(430 1799.9) scale(1 1.04)">12</text>
<text class="y" transform="translate(106.9 1526.8) scale(1 1.04)">2.5</text>
<text class="y" transform="translate(106.9 1596.3) scale(1 1.04)">2.0</text>
<text class="y" transform="translate(106.9 1665.8) scale(1 1.04)">1.5</text>
<text class="y" transform="translate(106.9 1735.3) scale(1 1.04)">1.0</text>
</g>
<g id="b7">
<g fill="#e4f24b" fill-opacity="0.48" stroke="#e4f24b" stroke-opacity="0.288" stroke-width="0.6"><circle cx="553.9" cy="1719.7" r="9.8"/><circle cx="602.3" cy="1699.4" r="9.8"/><circle cx="640.8" cy="1712.2" r="9.8"/><circle cx="647.8" cy="1716.4" r="9.8"/><circle cx="659" cy="1711.4" r="9.8"/><circle cx="680.8" cy="1720.2" r="9.8"/><circle cx="712.5" cy="1716.4" r="9.8"/><circle cx="718" cy="1736.4" r="9.8"/><circle cx="754.7" cy="1717.2" r="9.8"/><circle cx="768.9" cy="1720.9" r="9.8"/><circle cx="850.1" cy="1743.9" r="9.8"/></g>
<g fill="#3fc699" fill-opacity="0.5" stroke="#3fc699" stroke-opacity="0.3" stroke-width="0.6"><circle cx="553.9" cy="1612.8" r="9.8"/><circle cx="602.3" cy="1584.1" r="9.8"/><circle cx="640.8" cy="1601.5" r="9.8"/><circle cx="647.8" cy="1609.8" r="9.8"/><circle cx="659" cy="1610.3" r="9.8"/><circle cx="680.8" cy="1624" r="9.8"/><circle cx="712.5" cy="1632.8" r="9.8"/><circle cx="718" cy="1614.8" r="9.8"/><circle cx="754.7" cy="1616.5" r="9.8"/><circle cx="768.9" cy="1625.8" r="9.8"/><circle cx="850.1" cy="1656.5" r="9.8"/></g>
<g fill="#3b6583" fill-opacity="0.53" stroke="#3b6583" stroke-opacity="0.318" stroke-width="0.6"><circle cx="553.9" cy="1505.9" r="9.8"/><circle cx="602.3" cy="1467.4" r="9.8"/><circle cx="640.8" cy="1491.7" r="9.8"/><circle cx="647.8" cy="1504.9" r="9.8"/><circle cx="659" cy="1509.6" r="9.8"/><circle cx="680.8" cy="1528.4" r="9.8"/><circle cx="712.5" cy="1548.3" r="9.8"/><circle cx="718" cy="1494.7" r="9.8"/><circle cx="754.7" cy="1517.4" r="9.8"/><circle cx="768.9" cy="1529.6" r="9.8"/><circle cx="850.1" cy="1569.8" r="9.8"/></g>
<path class="ln" stroke="#e8f04a" d="M554.9 1706.9L850.3 1735.7"/>
<path class="ln" stroke="#40ae7e" d="M554.9 1594.6L850.3 1645.8"/>
<path class="ln" stroke="#1f4969" d="M554.9 1481.2L850.3 1555.8"/>
<path class="tk" d="M550.9 1756.7v12.5M647.5 1756.7v12.5M744.1 1756.7v12.5M840.7 1756.7v12.5M540.3 1555.6h-12.5M540.3 1678h-12.5"/>
<rect class="fr" x="540.3" y="1455.4" width="323.4" height="301.3"/>
<text class="t" transform="translate(702 1433.3) scale(1 1.02)">US-Ne3</text>
<text class="t" transform="translate(550.9 1799.9) scale(1 1.04)">9</text>
<text class="t" transform="translate(647.5 1799.9) scale(1 1.04)">10</text>
<text class="t" transform="translate(744.1 1799.9) scale(1 1.04)">11</text>
<text class="t" transform="translate(840.7 1799.9) scale(1 1.04)">12</text>
<text class="y" transform="translate(516.9 1566.3) scale(1 1.04)">2</text>
<text class="y" transform="translate(516.9 1688.7) scale(1 1.04)">1</text>
</g>
<g id="b8">
<g fill="#e4f24b" fill-opacity="0.48" stroke="#e4f24b" stroke-opacity="0.288" stroke-width="0.6"><circle cx="963.9" cy="1697" r="9.8"/><circle cx="994.9" cy="1647.8" r="9.8"/><circle cx="995.9" cy="1727.7" r="9.8"/><circle cx="998.6" cy="1728.2" r="9.8"/><circle cx="1045.3" cy="1708.4" r="9.8"/><circle cx="1050.3" cy="1721.9" r="9.8"/><circle cx="1058.8" cy="1743.9" r="9.8"/><circle cx="1093.5" cy="1644" r="9.8"/><circle cx="1099.8" cy="1639" r="9.8"/><circle cx="1106.8" cy="1686.5" r="9.8"/><circle cx="1116" cy="1730.2" r="9.8"/><circle cx="1143" cy="1684.5" r="9.8"/><circle cx="1166.9" cy="1640.8" r="9.8"/><circle cx="1260.1" cy="1645.8" r="9.8"/></g>
<g fill="#3fc699" fill-opacity="0.5" stroke="#3fc699" stroke-opacity="0.3" stroke-width="0.6"><circle cx="963.9" cy="1582.8" r="9.8"/><circle cx="994.9" cy="1567.1" r="9.8"/><circle cx="995.9" cy="1615.3" r="9.8"/><circle cx="998.6" cy="1610.3" r="9.8"/><circle cx="1045.3" cy="1625.3" r="9.8"/><circle cx="1050.3" cy="1629" r="9.8"/><circle cx="1058.8" cy="1629" r="9.8"/><circle cx="1093.5" cy="1562.8" r="9.8"/><circle cx="1099.8" cy="1576.6" r="9.8"/><circle cx="1106.8" cy="1623.5" r="9.8"/><circle cx="1116" cy="1639.8" r="9.8"/><circle cx="1143" cy="1614.5" r="9.8"/><circle cx="1166.9" cy="1560.3" r="9.8"/><circle cx="1260.1" cy="1590.3" r="9.8"/></g>
<g fill="#3b6583" fill-opacity="0.53" stroke="#3b6583" stroke-opacity="0.318" stroke-width="0.6"><circle cx="963.9" cy="1467.4" r="9.8"/><circle cx="994.9" cy="1485.4" r="9.8"/><circle cx="995.9" cy="1505.4" r="9.8"/><circle cx="998.6" cy="1494.2" r="9.8"/><circle cx="1045.3" cy="1543.4" r="9.8"/><circle cx="1050.3" cy="1537.4" r="9.8"/><circle cx="1058.8" cy="1514.1" r="9.8"/><circle cx="1093.5" cy="1482.9" r="9.8"/><circle cx="1099.8" cy="1515.4" r="9.8"/><circle cx="1106.8" cy="1561.6" r="9.8"/><circle cx="1116" cy="1549.6" r="9.8"/><circle cx="1143" cy="1545.4" r="9.8"/><circle cx="1166.9" cy="1479.2" r="9.8"/><circle cx="1260.1" cy="1534.4" r="9.8"/></g>
<path class="tk" d="M978.6 1756.7v12.5M1036.6 1756.7v12.5M1094.5 1756.7v12.5M1152.5 1756.7v12.5M1210.4 1756.7v12.5M1268.3 1756.7v12.5M950.3 1474.4h-12.5M950.3 1536.5h-12.5M950.3 1598.7h-12.5M950.3 1660.9h-12.5M950.3 1723h-12.5"/>
<rect class="fr" x="950.3" y="1455.4" width="323.4" height="301.3"/>
<text class="t" transform="translate(1112 1433.3) scale(1 1.02)">US-Me2</text>
<text class="t" transform="translate(978.6 1799.9) scale(1 1.04)">7.0</text>
<text class="t" transform="translate(1036.6 1799.9) scale(1 1.04)">7.5</text>
<text class="t" transform="translate(1094.5 1799.9) scale(1 1.04)">8.0</text>
<text class="t" transform="translate(1152.5 1799.9) scale(1 1.04)">8.5</text>
<text class="t" transform="translate(1210.4 1799.9) scale(1 1.04)">9.0</text>
<text class="t" transform="translate(1268.3 1799.9) scale(1 1.04)">9.5</text>
<text class="y" transform="translate(926.9 1485.1) scale(1 1.04)">3.0</text>
<text class="y" transform="translate(926.9 1547.2) scale(1 1.04)">2.5</text>
<text class="y" transform="translate(926.9 1609.4) scale(1 1.04)">2.0</text>
<text class="y" transform="translate(926.9 1671.6) scale(1 1.04)">1.5</text>
<text class="y" transform="translate(926.9 1733.7) scale(1 1.04)">1.0</text>
</g>
<g id="b9">
<g fill="#e4f24b" fill-opacity="0.48" stroke="#e4f24b" stroke-opacity="0.288" stroke-width="0.6"><circle cx="1376.9" cy="1703.2" r="9.8"/><circle cx="1373.9" cy="1703.9" r="9.8"/><circle cx="1375.4" cy="1693.5" r="9.8"/><circle cx="1404.9" cy="1714.7" r="9.8"/><circle cx="1465.3" cy="1681" r="9.8"/><circle cx="1471.3" cy="1701.4" r="9.8"/><circle cx="1497.8" cy="1707.7" r="9.8"/><circle cx="1500.8" cy="1680.2" r="9.8"/><circle cx="1503.8" cy="1726.4" r="9.8"/><circle cx="1524.7" cy="1743.9" r="9.8"/><circle cx="1535.2" cy="1732.2" r="9.8"/><circle cx="1599.2" cy="1684" r="9.8"/><circle cx="1621.4" cy="1691" r="9.8"/><circle cx="1670.1" cy="1708.9" r="9.8"/></g>
<g fill="#3fc699" fill-opacity="0.5" stroke="#3fc699" stroke-opacity="0.3" stroke-width="0.6"><circle cx="1376.9" cy="1585.3" r="9.8"/><circle cx="1373.9" cy="1597.1" r="9.8"/><circle cx="1375.4" cy="1598.5" r="9.8"/><circle cx="1404.9" cy="1622.3" r="9.8"/><circle cx="1465.3" cy="1594.8" r="9.8"/><circle cx="1471.3" cy="1609" r="9.8"/><circle cx="1497.8" cy="1623.3" r="9.8"/><circle cx="1500.8" cy="1607.8" r="9.8"/><circle cx="1503.8" cy="1640.8" r="9.8"/><circle cx="1524.7" cy="1674.5" r="9.8"/><circle cx="1535.2" cy="1646" r="9.8"/><circle cx="1599.2" cy="1591.6" r="9.8"/><circle cx="1621.4" cy="1596.3" r="9.8"/><circle cx="1670.1" cy="1654.7" r="9.8"/></g>
<g fill="#3b6583" fill-opacity="0.53" stroke="#3b6583" stroke-opacity="0.318" stroke-width="0.6"><circle cx="1376.9" cy="1467.4" r="9.8"/><circle cx="1373.9" cy="1488.4" r="9.8"/><circle cx="1375.4" cy="1504.1" r="9.8"/><circle cx="1404.9" cy="1529.9" r="9.8"/><circle cx="1465.3" cy="1508.4" r="9.8"/><circle cx="1471.3" cy="1516.6" r="9.8"/><circle cx="1497.8" cy="1539.1" r="9.8"/><circle cx="1500.8" cy="1535.9" r="9.8"/><circle cx="1503.8" cy="1555.3" r="9.8"/><circle cx="1524.7" cy="1604.5" r="9.8"/><circle cx="1535.2" cy="1560.3" r="9.8"/><circle cx="1599.2" cy="1499.1" r="9.8"/><circle cx="1621.4" cy="1501.1" r="9.8"/><circle cx="1670.1" cy="1600.8" r="9.8"/></g>
<path class="tk" d="M1360.3 1756.7v12.5M1447.7 1756.7v12.5M1535.2 1756.7v12.5M1622.6 1756.7v12.5M1360.3 1521.9h-12.5M1360.3 1592h-12.5M1360.3 1662.1h-12.5M1360.3 1732.2h-12.5"/>
<rect class="fr" x="1360.3" y="1455.4" width="323.4" height="301.3"/>
<text class="t" transform="translate(1522 1433.3) scale(1 1.02)">US-MOz</text>
<text class="t" transform="translate(1360.3 1799.9) scale(1 1.04)">12</text>
<text class="t" transform="translate(1447.7 1799.9) scale(1 1.04)">13</text>
<text class="t" transform="translate(1535.2 1799.9) scale(1 1.04)">14</text>
<text class="t" transform="translate(1622.6 1799.9) scale(1 1.04)">15</text>
<text class="y" transform="translate(1336.9 1532.6) scale(1 1.04)">2.0</text>
<text class="y" transform="translate(1336.9 1602.7) scale(1 1.04)">1.5</text>
<text class="y" transform="translate(1336.9 1672.8) scale(1 1.04)">1.0</text>
<text class="y" transform="translate(1336.9 1742.9) scale(1 1.04)">0.5</text>
</g>
<text class="lb" x="1.3" y="20">a</text>
<text class="lb" x="2" y="965.6">b</text>
<text class="t" x="1112.3" y="894.2">Annual temperature (°C)</text>
<text class="t" x="1112.3" y="1838.9">Annual temperature (°C)</text>
<text transform="translate(36.6 465) rotate(-90)">Q<tspan class="s" x="24.8" y="5.4">10</tspan></text>
<text transform="translate(45.1 1388) rotate(-90)"><tspan x="-166.7" y="0">Ln </tspan><tspan font-style="italic" x="-124.5" y="0">R</tspan><tspan class="s" x="-101.7" y="5">ref </tspan><tspan x="-69.3" y="0">(µmol CO</tspan><tspan class="s" x="56" y="5.2">2 </tspan><tspan x="75.8" y="0">m</tspan><tspan class="s" x="100.2" y="-15.1">-2 </tspan><tspan x="126.9" y="0">s</tspan><tspan class="s" x="141.5" y="-15.1">-1</tspan><tspan x="161.8" y="0">)</tspan></text>
</svg></body></html>
